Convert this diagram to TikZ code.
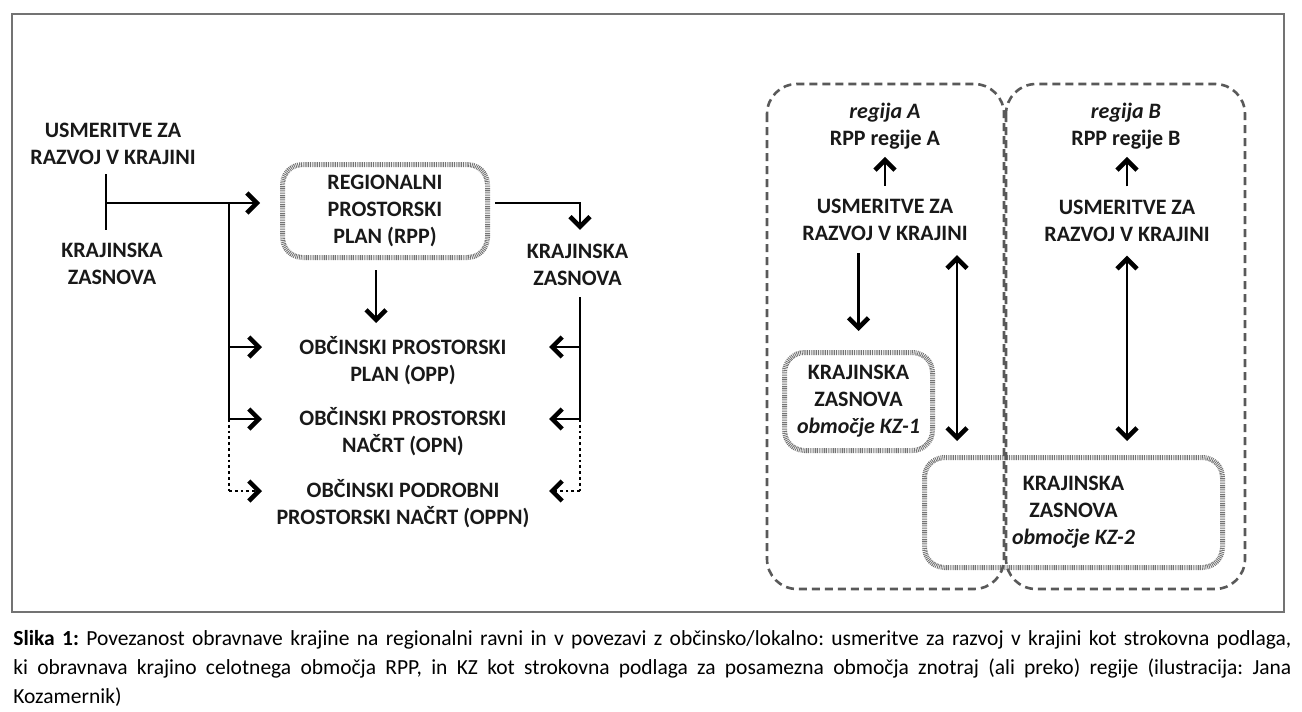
\documentclass[tikz,border=0pt]{standalone}
\usepackage{fontspec}
\setmainfont{Carlito}
\usetikzlibrary{arrows.meta}
\frenchspacing

\begin{document}
\begin{tikzpicture}
	[x=1pt,y=-1pt,line width=2.8pt,
	txt/.style = {
		font=\fontsize{22}{27}\selectfont\bfseries,
		align=center, inner sep=0pt, text=black!90
	},
	kzbox/.style = {
		draw=black!55, line width=5pt, dash pattern=on 0.9pt off 0.9pt,
		rounded corners=20pt, inner sep=0pt, text=black!90,
		font=\fontsize{22}{27}\selectfont\bfseries, align=center
	},
	region/.style = {
		draw=black!65, line width=2.6pt, dash pattern=on 8pt off 5pt,
		rounded corners=30pt
	},
	framebox/.style = {
		draw=black!55, line width=1.3pt
	},
	arr/.style = {
		-{Straight Barb[length=10pt,width=20pt,line width=4.5pt]}
	},
	darr/.style = {
		{Straight Barb[length=10pt,width=20pt,line width=4.5pt]}-{Straight Barb[length=10pt,width=20pt,line width=4.5pt]}
	},
	dots/.style = {
		dash pattern=on 2.8pt off 3pt
	},
	captext/.style = {
		font=\fontsize{21.5}{29}\selectfont, text width=1278pt,
		align=justify, inner sep=0pt, text=black
	}]
	
	\useasboundingbox (0,0) rectangle (1302,712);
	\draw[framebox] (12,14) rectangle (1284,612);
	
	%Draw nodes, left part
	\node[txt] at (113,143.5) (usmL) {USMERITVE ZA\\RAZVOJ V KRAJINI};
	\node[txt] at (112,263.5) (kzL) {KRAJINSKA\\ZASNOVA};
	\node[kzbox, minimum width=205pt, minimum height=93pt] at (385,211) (rpp) {REGIONALNI\\PROSTORSKI\\PLAN (RPP)};
	\node[txt] at (577.5,265) (kzR) {KRAJINSKA\\ZASNOVA};
	\node[txt] at (403,361) (opp) {OBČINSKI PROSTORSKI\\PLAN (OPP)};
	\node[txt] at (403,431.5) (opn) {OBČINSKI PROSTORSKI\\NAČRT (OPN)};
	\node[txt] at (403,504) (oppn) {OBČINSKI PODROBNI\\PROSTORSKI NAČRT (OPPN)};
	
	\coordinate(bar1) at (106,174);
	\coordinate(bar2) at (106,230);
	\coordinate(split) at (106,203);
	\coordinate(jL) at (229,203);
	\coordinate(jR) at (580,203);
	\coordinate(trR) at (580,297);
	\coordinate(rppOut) at (376,270);
	\coordinate(rppIn) at (376,323);
	
	\coordinate(rowL1) at (229,347);
	\coordinate(rowL2) at (229,419);
	\coordinate(rowL3) at (229,491);
	\coordinate(tipL1) at (262,347);
	\coordinate(tipL2) at (262,419);
	\coordinate(tipL3) at (262,491);
	
	\coordinate(rowR1) at (580,347);
	\coordinate(rowR2) at (580,419);
	\coordinate(rowR3) at (580,491);
	\coordinate(tipR1) at (549,347);
	\coordinate(tipR2) at (549,419);
	\coordinate(tipR3) at (549,491);
	
	%Draw nodes, right part
	\node[txt] at (885,126.5) (rppA) {\textit{regija A}\\RPP regije A};
	\node[txt] at (885,220) (usmA) {USMERITVE ZA\\RAZVOJ V KRAJINI};
	\node[txt] at (1126,126.5) (rppB) {\textit{regija B}\\RPP regije B};
	\node[txt] at (1127,220.5) (usmB) {USMERITVE ZA\\RAZVOJ V KRAJINI};
	\node[kzbox, minimum width=148pt, minimum height=98pt] at (858.5,401.5) (kz1) {KRAJINSKA\\ZASNOVA\\\textit{območje KZ-1}};
	\node[kzbox, minimum width=298pt, minimum height=110pt] at (1073.5,512.5) (kz2) {KRAJINSKA\\ZASNOVA\\\textit{območje KZ-2}};
	
	\coordinate(dblA) at (957,0);
	
	\draw[region] (767,84) rectangle (1004,589);
	\draw[region] (1006,84) rectangle (1245,589);
	
	%Draw wires, left part
	
	\draw (bar1) -- (bar2);
	\draw[arr,shorten >=20pt] (split) -- (split -| rpp.west);
	\draw[arr,shorten <=5pt,shorten >=13pt] (rpp.east |- jR) -- (jR) -- (jR |- kzR.north);
	\draw[arr] (rppOut) -- (rppIn);
	
	\draw (jL) -- (rowL2);
	\draw[dots] (rowL2) -- (rowL3);
	\draw[arr] (rowL1) -- (tipL1);
	\draw[arr] (rowL2) -- (tipL2);
	\draw[arr,dots] (rowL3) -- (tipL3);
	
	\draw (trR) -- (rowR2);
	\draw[dots] (rowR2) -- (rowR3);
	\draw[arr] (rowR1) -- (tipR1);
	\draw[arr] (rowR2) -- (tipR2);
	\draw[arr,dots] (rowR3) -- (tipR3);
	
	%Draw wires, right part
	
	\draw[arr,shorten <=12pt,shorten >=6pt] (usmA.north) -- (rppA.south);
	\draw[arr,shorten <=12pt,shorten >=6pt] (usmB.north) -- (usmB.north |- rppB.south);
	\draw[arr,shorten <=11pt,shorten >=19pt] (usmA.south -| kz1.north) -- (kz1.north);
	\draw[darr,shorten <=13pt,shorten >=14pt] (usmA.south -| dblA) -- (kz2.north -| dblA);
	\draw[darr,shorten <=13pt,shorten >=14pt] (usmB.south) -- (usmB.south |- kz2.north);
	
	%Caption
	\node[captext, anchor=base west] at (12,645) (cap) {\textbf{Slika 1:} Povezanost obravnave krajine na regionalni ravni in v povezavi z občinsko/lokalno: usmeritve za razvoj v krajini kot strokovna podlaga,\linebreak ki obravnava krajino celotnega območja RPP, in KZ kot strokovna podlaga za posamezna območja znotraj (ali preko) regije (ilustracija: Jana\linebreak Kozamernik)};
	
\end{tikzpicture}
\end{document}
